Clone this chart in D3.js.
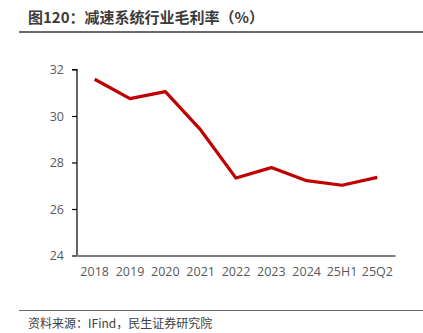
<!DOCTYPE html>
<html>
<head>
<meta charset="utf-8">
<script src="https://cdn.jsdelivr.net/npm/d3@7/dist/d3.min.js"></script>
<style>
  html, body { margin: 0; padding: 0; background: #fff; }
  svg { display: block; font-family: "Noto Sans CJK SC", "Noto Sans", sans-serif; }
</style>
</head>
<body>
<svg id="chart" width="423" height="333"></svg>
<script>
// Gross margin of the speed-reducer industry (%)
const periods = ["2018", "2019", "2020", "2021", "2022", "2023", "2024", "25H1", "25Q2"];
const margins = [31.58, 30.75, 31.05, 29.4, 27.33, 27.78, 27.22, 27.02, 27.36];
const yTicks = [24, 26, 28, 30, 32];

const titleText = "图120：减速系统行业毛利率（%）";
const sourceText = "资料来源：IFind，民生证券研究院";

const svg = d3.select("#chart");

const plot = { left: 77, right: 395, top: 69.5, bottom: 255.5 };

const x = d3.scaleBand().domain(periods).range([plot.left, plot.right]).paddingInner(0).paddingOuter(0);
const y = d3.scaleLinear().domain([24, 32]).range([plot.bottom, plot.top]);

// Title and its rule
svg.append("text")
  .attr("x", 28).attr("y", 23)
  .attr("font-size", 15).attr("font-weight", "bold")
  .attr("fill", "#3a3a3a")
  .text(titleText);
svg.append("line")
  .attr("x1", 19).attr("x2", 423).attr("y1", 32).attr("y2", 32)
  .attr("stroke", "#6b6b6b").attr("stroke-width", 2);

// Y axis
const yAxis = svg.append("g")
  .attr("transform", `translate(${plot.left},0)`)
  .call(d3.axisLeft(y).tickValues(yTicks).tickSize(5).tickPadding(8).tickFormat(d3.format("d")));
yAxis.select(".domain").attr("stroke", "#000").attr("stroke-width", 1.2).attr("d", `M-5,${plot.top}H0V${plot.bottom}`);
yAxis.selectAll(".tick line").attr("stroke", "#000").attr("stroke-width", 1.2);
yAxis.selectAll(".tick text").attr("fill", "#595959").attr("font-size", 12.5)
  .attr("font-family", "'Open Sans', 'Noto Sans', sans-serif");

// X axis
const xAxis = svg.append("g")
  .attr("transform", `translate(0,${plot.bottom})`)
  .call(d3.axisBottom(x).tickSize(0).tickPadding(12));
xAxis.select(".domain").attr("stroke", "#000").attr("stroke-width", 1.2);
xAxis.selectAll(".tick text").attr("fill", "#595959").attr("font-size", 12.5)
  .attr("font-family", "'Open Sans', 'Noto Sans', sans-serif");

// Margin line
const line = d3.line()
  .x((d, i) => x(periods[i]) + x.bandwidth() / 2)
  .y(d => y(d));
svg.append("path")
  .datum(margins)
  .attr("d", line)
  .attr("fill", "none")
  .attr("stroke", "#c00000")
  .attr("stroke-width", 3.2)
  .attr("stroke-linejoin", "round");

// Source rule and note
svg.append("line")
  .attr("x1", 19).attr("x2", 423).attr("y1", 310.5).attr("y2", 310.5)
  .attr("stroke", "#6b6b6b").attr("stroke-width", 1.2);
svg.append("text")
  .attr("x", 28).attr("y", 328)
  .attr("font-size", 12)
  .attr("fill", "#404040")
  .text(sourceText);
</script>
</body>
</html>
